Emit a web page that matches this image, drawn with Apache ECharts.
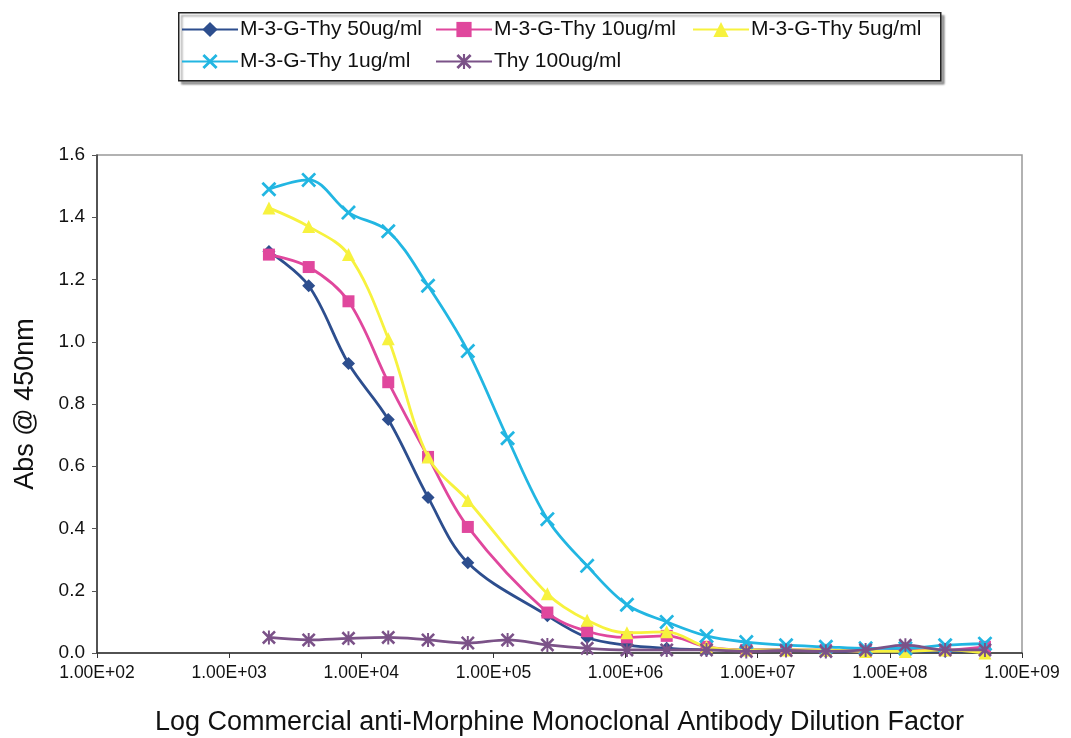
<!DOCTYPE html>
<html>
<head>
<meta charset="utf-8">
<script src="https://cdn.jsdelivr.net/npm/echarts@6/dist/echarts.min.js"></script>
<style>
html,body{margin:0;padding:0;background:#fff;}
#chart{width:1071px;height:738px;}
</style>
</head>
<body>
<div id="chart"></div>
<script>
// Dilution factors (x values)
var dilutions = [2000, 4000, 8000, 16000, 32000, 64000, 128000, 256000, 512000, 1024000, 2048000, 4096000, 8192000, 16384000, 32768000, 65536000, 131072000, 262144000, 524288000];
// Series values (Abs @ 450nm); null = no point at that dilution
var s50 = [1.29, 1.18, 0.93, 0.75, 0.50, 0.29, null, 0.12, 0.05, 0.025, 0.015, 0.01, 0.01, 0.01, 0.005, 0.005, 0.005, 0.005, 0.01];
var s10 = [1.28, 1.24, 1.13, 0.87, 0.63, 0.405, null, 0.13, 0.07, 0.05, 0.055, 0.02, 0.01, 0.01, 0.01, 0.005, 0.01, 0.01, 0.02];
var s5 = [1.43, 1.37, 1.28, 1.01, 0.63, 0.49, null, 0.19, 0.105, 0.065, 0.068, 0.02, 0.01, 0.01, 0.01, 0.005, 0.005, 0.01, 0.0];
var s1 = [1.49, 1.52, 1.415, 1.355, 1.18, 0.97, 0.69, 0.43, 0.28, 0.155, 0.10, 0.055, 0.035, 0.025, 0.02, 0.015, 0.015, 0.025, 0.03];
var sThy = [0.05, 0.042, 0.047, 0.05, 0.042, 0.032, 0.042, 0.026, 0.015, 0.01, 0.01, 0.01, 0.005, 0.008, 0.005, 0.01, 0.025, 0.01, 0.01];
var seriesNames = ['M-3-G-Thy 50ug/ml', 'M-3-G-Thy 10ug/ml', 'M-3-G-Thy 5ug/ml', 'M-3-G-Thy 1ug/ml', 'Thy 100ug/ml'];
var yTicks = [0, 0.2, 0.4, 0.6, 0.8, 1.0, 1.2, 1.4, 1.6];

var FONT = 'Liberation Sans, Arial, sans-serif';
var X_PATH = 'path://M0,1.3L1.3,0L5,3.7L8.7,0L10,1.3L6.3,5L10,8.7L8.7,10L5,6.3L1.3,10L0,8.7L3.7,5Z';
var STAR_PATH = 'path://M0,1.3L1.3,0L5,3.7L8.7,0L10,1.3L6.3,5L10,8.7L8.7,10L5,6.3L1.3,10L0,8.7L3.7,5Z M4.3,0L5.7,0L5.7,10L4.3,10Z';

function pairs(vals) {
  return dilutions.map(function (d, i) { return [d, vals[i]]; });
}

var styles = [
  { color: '#2D4E8E', symbol: 'diamond', size: 13 },
  { color: '#E0479D', symbol: 'rect', size: 12 },
  { color: '#F7F23E', symbol: 'triangle', size: 13 },
  { color: '#22B6E2', symbol: X_PATH, size: 15 },
  { color: '#7B5288', symbol: STAR_PATH, size: 14 }
];
var values = [s50, s10, s5, s1, sThy];

var series = values.map(function (v, i) {
  return {
    name: seriesNames[i],
    type: 'line',
    data: pairs(v),
    connectNulls: true,
    smooth: 0.35,
    symbol: styles[i].symbol,
    symbolSize: styles[i].size,
    showAllSymbol: true,
    lineStyle: { color: styles[i].color, width: 2.8 },
    itemStyle: { color: styles[i].color, borderWidth: 0 },
    emphasis: { disabled: true },
    z: 2 + i
  };
});

function legendAt(name, left, top) {
  return {
    data: [name], left: left, top: top, orient: 'horizontal',
    itemWidth: 56, itemHeight: 19, padding: 0,
    textStyle: { fontFamily: FONT, fontSize: 21, color: '#111', padding: [0, 0, 0, -3] },
    selectedMode: false
  };
}

var chart = echarts.init(document.getElementById('chart'), null, { renderer: 'canvas' });
chart.setOption({
  backgroundColor: '#ffffff',
  animation: false,
  graphic: [{
    type: 'rect', left: 178, top: 12, z: -1,
    shape: { width: 762, height: 68 },
    style: { fill: '#fff', stroke: '#222', lineWidth: 1.5, shadowColor: 'rgba(0,0,0,0.35)', shadowOffsetX: 3, shadowOffsetY: 3, shadowBlur: 2 }
  }],
  legend: [
    legendAt(seriesNames[0], 181, 19),
    legendAt(seriesNames[1], 435, 19),
    legendAt(seriesNames[2], 692, 19),
    legendAt(seriesNames[3], 181, 51),
    legendAt(seriesNames[4], 435, 51)
  ],
  grid: { left: 97, top: 155, right: 49, bottom: 85, show: true, borderColor: '#999', borderWidth: 1.5, containLabel: false, outerBoundsMode: 'none' },
  xAxis: {
    type: 'log', logBase: 10, min: 100, max: 1e9, splitNumber: 7,
    name: 'Log Commercial anti-Morphine Monoclonal Antibody Dilution Factor',
    nameLocation: 'middle', nameGap: 56,
    nameTextStyle: { fontFamily: FONT, fontSize: 27, color: '#111' },
    axisLine: { show: true, lineStyle: { color: '#333', width: 1.5 } },
    axisTick: { show: true, inside: false, length: 5, lineStyle: { color: '#333' } },
    minorTick: { show: false },
    splitLine: { show: false },
    axisLabel: {
      fontFamily: FONT, fontSize: 17.5, color: '#111', margin: 11, showMaxLabel: true, showMinLabel: true,
      formatter: function (v) {
        var e = Math.round(Math.log10(v));
        var m = v / Math.pow(10, e);
        return m.toFixed(2) + 'E+' + (e < 10 ? '0' + e : e);
      }
    }
  },
  yAxis: {
    type: 'value', min: 0, max: 1.6, interval: 0.2,
    name: 'Abs @ 450nm', nameLocation: 'middle', nameGap: 58,
    nameTextStyle: { fontFamily: FONT, fontSize: 27, color: '#111' },
    axisLine: { show: true, lineStyle: { color: '#333', width: 1.5 } },
    axisTick: { show: true, inside: false, length: 5, lineStyle: { color: '#555' } },
    splitLine: { show: false },
    axisLabel: {
      fontFamily: FONT, fontSize: 19, color: '#111', margin: 12,
      formatter: function (v) { return v.toFixed(1); }
    }
  },
  series: series
});
</script>
</body>
</html>
